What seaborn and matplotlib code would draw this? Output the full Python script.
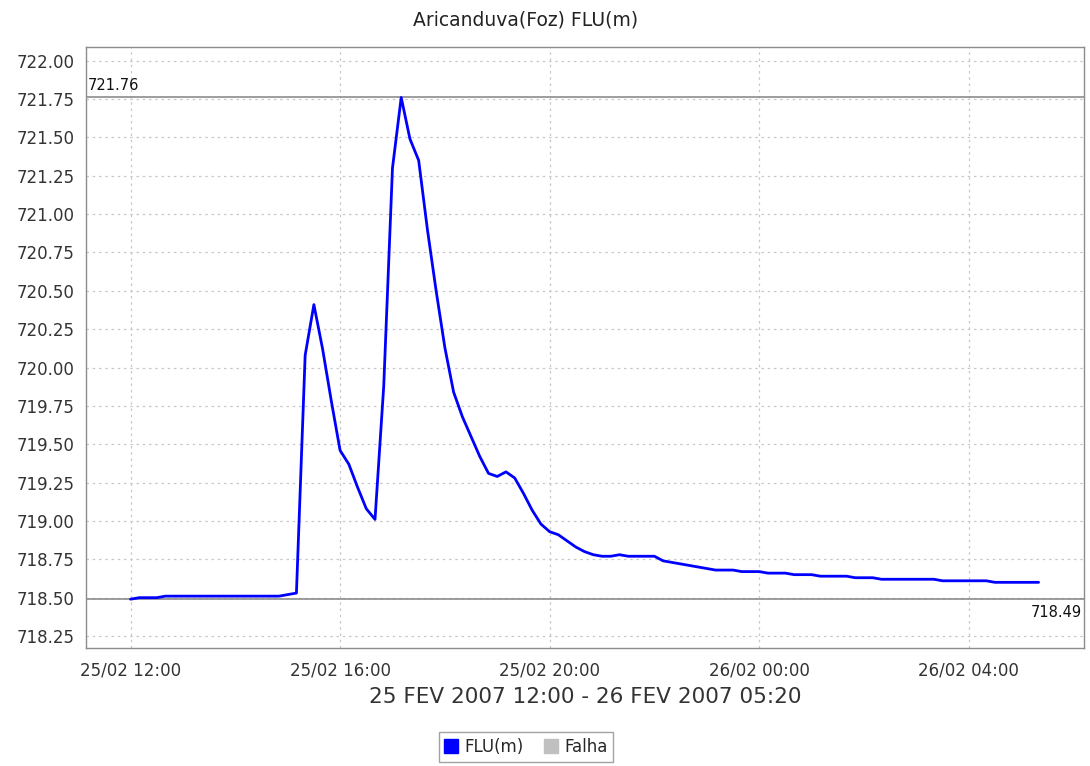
import pandas as pd
import seaborn as sns
import matplotlib.pyplot as plt
import matplotlib.dates as mdates
from matplotlib.lines import Line2D

# readings every 10 minutes, 25/02/2007 12:00 -> 26/02/2007 05:20
start = "2007-02-25 12:00"
end = "2007-02-26 05:20"
levels = [
    718.49, 718.50, 718.50, 718.50, 718.51, 718.51,   # 12h
    718.51, 718.51, 718.51, 718.51, 718.51, 718.51,   # 13h
    718.51, 718.51, 718.51, 718.51, 718.51, 718.51,   # 14h
    718.52, 718.53, 720.08, 720.41, 720.12, 719.78,   # 15h
    719.46, 719.37, 719.22, 719.08, 719.01, 719.88,   # 16h
    721.30, 721.76, 721.49, 721.35, 720.90, 720.50,   # 17h
    720.13, 719.84, 719.68, 719.55, 719.42, 719.31,   # 18h
    719.29, 719.32, 719.28, 719.18, 719.07, 718.98,   # 19h
    718.93, 718.91, 718.87, 718.83, 718.80, 718.78,   # 20h
    718.77, 718.77, 718.78, 718.77, 718.77, 718.77,   # 21h
    718.77, 718.74, 718.73, 718.72, 718.71, 718.70,   # 22h
    718.69, 718.68, 718.68, 718.68, 718.67, 718.67,   # 23h
    718.67, 718.66, 718.66, 718.66, 718.65, 718.65,   # 00h
    718.65, 718.64, 718.64, 718.64, 718.64, 718.63,   # 01h
    718.63, 718.63, 718.62, 718.62, 718.62, 718.62,   # 02h
    718.62, 718.62, 718.62, 718.61, 718.61, 718.61,   # 03h
    718.61, 718.61, 718.61, 718.60, 718.60, 718.60,   # 04h
    718.60, 718.60, 718.60,                           # 05h
]
series_names = ["FLU(m)", "Falha"]
series_colors = ["#0000ff", "#c0c0c0"]
max_label = "721.76"
min_label = "718.49"

df = pd.DataFrame({
    "time": pd.date_range(start, end, freq="10min"),
    "level": levels,
})

sns.set_style("white")
plt.rcParams["font.family"] = ["DejaVu Sans"]

fig = plt.figure(figsize=(10.9, 7.66), dpi=100)
ax = fig.add_axes([86 / 1090, 1 - 648 / 766, 998 / 1090, 601 / 766])

sns.lineplot(data=df, x="time", y="level", ax=ax, color=series_colors[0],
             linewidth=2.0, legend=False, zorder=3)

# max / min marker lines
ax.axhline(max(levels), color="#8c8c8c", linewidth=1.2, zorder=2)
ax.axhline(min(levels), color="#8c8c8c", linewidth=1.2, zorder=2)
ax.text(0.002, max(levels) + 0.03, max_label, transform=ax.get_yaxis_transform(),
        ha="left", va="bottom", fontsize=10.5, color="#111111")
ax.text(0.998, min(levels) - 0.04, min_label, transform=ax.get_yaxis_transform(),
        ha="right", va="top", fontsize=10.5, color="#111111")

ax.set_xlim(pd.Timestamp("2007-02-25 11:09"), pd.Timestamp("2007-02-26 06:12"))
ax.set_ylim(718.172, 722.089)
ax.set_yticks([718.25 + 0.25 * i for i in range(16)])
ax.yaxis.set_major_formatter(plt.FormatStrFormatter("%.2f"))
ax.xaxis.set_major_locator(mdates.HourLocator(byhour=[0, 4, 8, 12, 16, 20]))
ax.xaxis.set_major_formatter(mdates.DateFormatter("%d/%m %H:%M"))

ax.grid(True, color="#c8c8c8", linestyle=(0, (2, 3)), linewidth=0.9)
for s in ax.spines.values():
    s.set_color("#8c8c8c")
    s.set_linewidth(1.0)
ax.tick_params(axis="both", direction="out", length=4, width=1, color="#8c8c8c",
               labelsize=12, labelcolor="#333333", pad=4)
ax.tick_params(axis="x", pad=6)

ax.set_xlabel("25 FEV 2007 12:00 - 26 FEV 2007 05:20", fontsize=15.5,
              color="#333333", labelpad=5)
ax.set_ylabel("")
fig.text(526 / 1090, 1 - 20 / 766, "Aricanduva(Foz) FLU(m)", ha="center",
         va="center", fontsize=13.5, color="#222222")

handles = [Line2D([], [], marker="s", linestyle="", markersize=10,
                  markerfacecolor=c, markeredgecolor=c) for c in series_colors]
leg = fig.legend(handles, series_names, loc="center",
                 bbox_to_anchor=(526 / 1090, 1 - 747 / 766), ncol=2,
                 fontsize=12, frameon=True, fancybox=False,
                 handlelength=0.8, handletextpad=0.4, columnspacing=1.2,
                 borderpad=0.35)
leg.get_frame().set_edgecolor("#8c8c8c")
leg.get_frame().set_linewidth(1.0)

plt.savefig("out.png", dpi=100)
